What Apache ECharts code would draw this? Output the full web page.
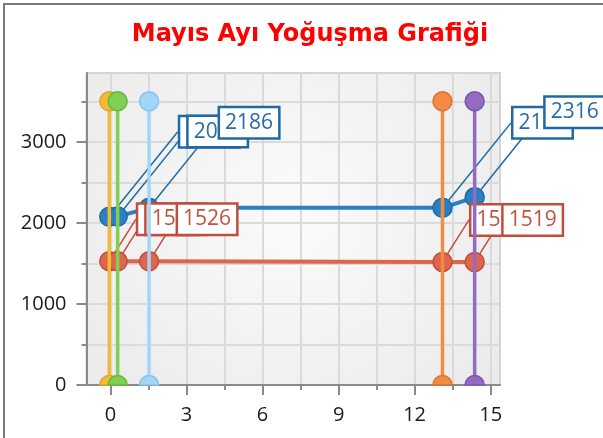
<!DOCTYPE html>
<html>
<head>
<meta charset="utf-8">
<script src="https://cdn.jsdelivr.net/npm/echarts@6/dist/echarts.min.js"></script>
<style>
html, body { margin: 0; padding: 0; background: #fff; overflow: hidden; }
#chart { position: absolute; left: 0; top: 0; width: 603px; height: 438px; }
#frame { position: absolute; left: 3px; top: 3px; width: 700px; height: 600px;
  border-left: 2px solid #7a7a7a; border-top: 2px solid #7a7a7a; pointer-events: none; }
</style>
</head>
<body>
<div id="chart"></div>
<div id="frame"></div>
<script>
// x positions of the five measurement columns
var colX = [-0.05, 0.28, 1.52, 13.1, 14.37];
var colNames = ["Sarı", "Yeşil", "Açık Mavi", "Turuncu", "Mor"];
var colColors = ["#f3bb35", "#80cf55", "#a3d5f6", "#f28c44", "#946ac3"];
var colBorders = ["#dfa52a", "#66b83d", "#86c2ec", "#de7230", "#7b55ad"];
var colBottom = [0, 0, 0, 0, 0];
var colTop = [3500, 3500, 3500, 3500, 3500];

// horizontal series values at each column
var blueVals = [2075, 2078, 2186, 2186, 2316];
var redVals = [1526, 1526, 1526, 1519, 1519];

var xLabels = [0, 3, 6, 9, 12, 15];
var xGrid = [0, 1.5, 3, 4.5, 6, 7.5, 9, 10.5, 12, 13.5, 15];
var yLabels = [0, 1000, 2000, 3000];
var yGrid = [0, 500, 1000, 1500, 2000, 2500, 3000, 3500];

// upper half of a circle inside a full 20x20 box (markers cut by the x axis)
var halfCircle = "path://M0,20 M20,0 M0,10 A10,10 0 0 1 20,10 L0,10 Z";

function pts(xs, ys) {
  return xs.map(function (x, i) { return [x, ys[i]]; });
}

var labelFont = "'Open Sans', 'Noto Sans', sans-serif";

function hSeries(name, vals, color, border, textColor, dx, dy) {
  return {
    name: name,
    type: "line",
    data: pts(colX, vals),
    symbol: "circle",
    symbolSize: 19,
    z: 2,
    lineStyle: { color: color, width: 4 },
    itemStyle: { color: color, borderColor: border, borderWidth: 1.5 },
    label: {
      show: true,
      position: "inside",
      formatter: function (p) { return p.value[1]; },
      fontFamily: labelFont,
      fontSize: 21,
      color: textColor,
      backgroundColor: "#fff",
      borderColor: border,
      borderWidth: 2.5,
      padding: [5, 5, 3, 5]
    },
    labelLine: { show: true, lineStyle: { color: border, width: 1.5 } },
    labelLayout: { dx: dx, dy: dy },
    emphasis: { disabled: true }
  };
}

var series = [
  hSeries("Mavi", blueVals, "#2a80c2", "#1f6aa5", "#2a6aa6", 100, -85),
  hSeries("Kırmızı", redVals, "#e0654e", "#bf4f3c", "#c4513e", 58, -42)
];

colX.forEach(function (x, i) {
  series.push({
    name: colNames[i],
    type: "line",
    z: 3,
    data: [[x, colBottom[i]], [x, colTop[i]]],
    symbol: function (val) { return val[1] === 0 ? halfCircle : "circle"; },
    symbolSize: 19,
    symbolKeepAspect: true,
    lineStyle: { color: colColors[i], width: 3.5 },
    itemStyle: { color: colColors[i], borderColor: colBorders[i], borderWidth: 1.5 },
    emphasis: { disabled: true }
  });
});

var axisFont = { fontFamily: labelFont, fontSize: 20, color: "#1a1a1a", formatter: function (v) { return String(v); } };

var option = {
  animation: false,
  title: {
    text: "Mayıs Ayı Yoğuşma Grafiği",
    left: 305,
    textAlign: "center",
    top: 18,
    textStyle: { color: "#ff0000", fontFamily: "'DejaVu Sans', sans-serif", fontWeight: "bold", fontSize: 24 }
  },
  grid: {
    left: 86.5, right: 103, top: 73, bottom: 53,
    show: true,
    borderColor: "#d4d4d4",
    borderWidth: 2,
    backgroundColor: {
      type: "radial", x: 0.5, y: 0.45, r: 0.8,
      colorStops: [{ offset: 0, color: "#fbfbfb" }, { offset: 1, color: "#ebebeb" }]
    },
    outerBoundsMode: "none"
  },
  xAxis: [
    {
      type: "value", min: -0.95, max: 15.37, position: "bottom",
      axisLine: { show: true, onZero: false, lineStyle: { color: "#8a8a8a", width: 2 } },
      axisTick: { show: true, length: 10, customValues: xLabels, lineStyle: { color: "#8a8a8a", width: 2 } },
      axisLabel: Object.assign({ customValues: xLabels, margin: 20 }, axisFont),
      splitLine: { show: false }
    },
    {
      type: "value", min: -0.95, max: 15.37, position: "bottom",
      axisLine: { show: false, onZero: false },
      axisTick: { show: true, length: 5, customValues: xGrid, lineStyle: { color: "#8a8a8a", width: 2 } },
      axisLabel: { show: false },
      splitLine: { show: true, lineStyle: { color: "#dadada", width: 2 } }
    }
  ],
  yAxis: [
    {
      type: "value", min: 0, max: 3850, position: "left",
      axisLine: { show: true, onZero: false, lineStyle: { color: "#8a8a8a", width: 2 } },
      axisTick: { show: true, length: 10, customValues: yLabels, lineStyle: { color: "#8a8a8a", width: 2 } },
      axisLabel: Object.assign({ customValues: yLabels, margin: 20 }, axisFont),
      splitLine: { show: false }
    },
    {
      type: "value", min: 0, max: 3850, position: "left",
      axisLine: { show: false, onZero: false },
      axisTick: { show: true, length: 5, customValues: yGrid, lineStyle: { color: "#8a8a8a", width: 2 } },
      axisLabel: { show: false },
      splitLine: { show: true, lineStyle: { color: "#dadada", width: 2 } }
    }
  ],
  series: series
};

var chart = echarts.init(document.getElementById("chart"), null, { renderer: "canvas" });
chart.setOption(option);
</script>
</body>
</html>
